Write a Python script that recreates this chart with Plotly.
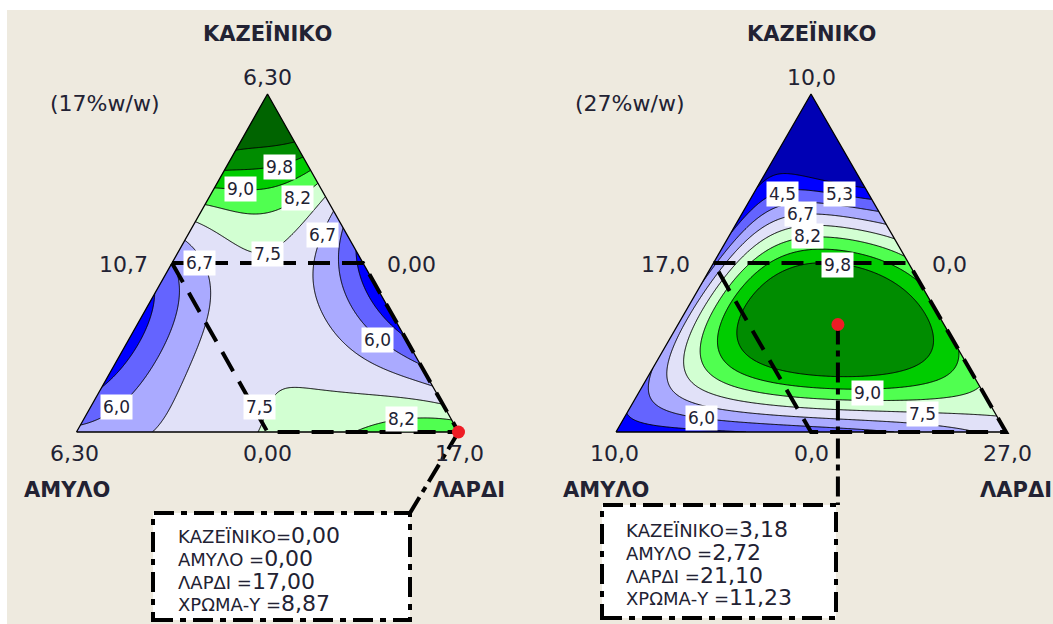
import numpy as np
import plotly.graph_objects as go

W, H = 1053, 624

# ====================== DATA ======================
# Left plot: mixture total 17 %w/w (KAZEINIKO 0-6,30 / AMYLO 0-6,30 / LARDI 10,7-17,0)
# Right plot: mixture total 27 %w/w (KAZEINIKO 0-10,0 / AMYLO 0-10,0 / LARDI 17,0-27,0)
# Response readings (ΧΡΩΜΑ-Υ), as pseudo-component proportions
L_kaz = [1.0,
         0.856, 0.869, 0.886,
         0.78, 0.77, 0.79,
         0.716, 0.718, 0.731, 0.753,
         0.672, 0.66, 0.667, 0.731,
         0.649, 0.598, 0.532, 0.529, 0.548, 0.598, 0.657, 0.701,
         0.568, 0.499, 0.42, 0.37, 0.30, 0.243, 0.173, 0.133, 0.0,
         0.686, 0.617, 0.548, 0.479, 0.41, 0.331, 0.233, 0.175, 0.144,
         0.494, 0.441, 0.352, 0.251, 0.154, 0.104, 0.036, 0.02,
         0.618, 0.5, 0.382, 0.302, 0.234, 0.19,
         0.435, 0.293, 0.183, 0.118,
         0.53, 0.441, 0.352, 0.302, 0.234,
         0.28, 0.40,
         0.149, 0.124, 0.104, 0.09, 0.08, 0.154, 0.124, 0.065, 0.0, 0.164,
         0.0, 0.036, 0.045, 0.05,
         0.0, 0.0,
         0.33, 0.45, 0.2, 0.25, 0.1,
         0.0, 0.0]
L_lard = [0.0,
          0.004, 0.064, 0.114,
          0.003, 0.10, 0.21,
          0.0, 0.126, 0.193, 0.247,
          0.009, 0.115, 0.182, 0.269,
          0.006, 0.068, 0.175, 0.242, 0.281, 0.299, 0.287, 0.299,
          0.0, 0.078, 0.129, 0.156, 0.17, 0.185, 0.19, 0.2, 0.195,
          0.314, 0.338, 0.359, 0.393, 0.437, 0.498, 0.617, 0.767, 0.856,
          0.0, 0.047, 0.082, 0.098, 0.094, 0.085, 0.036, 0.0,
          0.381, 0.444, 0.516, 0.609, 0.73, 0.81,
          0.0, 0.033, 0.028, 0.0,
          0.47, 0.529, 0.619, 0.704, 0.766,
          0.0, 0.60,
          0.563, 0.662, 0.76, 0.854, 0.92, 0.456, 0.436, 0.452, 0.476, 0.503,
          0.73, 0.794, 0.877, 0.95,
          1.0, 0.0,
          0.33, 0.25, 0.3, 0.45, 0.3,
          0.1, 0.35]
L_resp = [11.0,
          10.5, 10.5, 10.5,
          9.75, 9.75, 9.75,
          9.0, 9.0, 9.0, 9.0,
          8.25, 8.25, 8.25, 8.25,
          7.5, 7.5, 7.5, 7.5, 7.5, 7.5, 7.5, 7.5,
          6.75, 6.75, 6.75, 6.75, 6.75, 6.75, 6.75, 6.75, 6.75,
          6.75, 6.75, 6.75, 6.75, 6.75, 6.75, 6.75, 6.75, 6.75,
          6.0, 6.0, 6.0, 6.0, 6.0, 6.0, 6.0, 6.0,
          6.0, 6.0, 6.0, 6.0, 6.0, 6.0,
          5.25, 5.25, 5.25, 5.25,
          5.25, 5.25, 5.25, 5.25, 5.25,
          5.0, 5.0,
          7.5, 7.5, 7.5, 7.5, 7.5, 7.5, 7.5, 7.5, 7.5, 7.5,
          8.25, 8.25, 8.25, 8.25,
          8.87, 6.2,
          7.1, 7.1, 7.1, 7.1, 7.1,
          6.4, 7.2]

R_kaz = [1.0, 0.85,
         0.726, 0.726, 0.72,
         0.55, 0.672, 0.701, 0.685, 0.06, 0.0,
         0.49, 0.657, 0.677, 0.667, 0.655, 0.46, 0.124, 0.03, 0.15,
         0.645, 0.617, 0.62, 0.3215, 0.46, 0.124, 0.05, 0.04, 0.0,
         0.612, 0.578, 0.575, 0.3215, 0.46, 0.124, 0.07, 0.063, 0.06,
         0.578, 0.548, 0.51, 0.3215, 0.46, 0.124, 0.095, 0.09, 0.12, 0.1736,
         0.529, 0.499, 0.44, 0.3215, 0.46, 0.164, 0.132, 0.119, 0.129, 0.1736, 0.23,
         0.494, 0.489, 0.42, 0.3215, 0.203, 0.149, 0.164, 0.3215, 0.46,
         0.35, 0.333, 0.32,
         0.40, 0.30, 0.18, 0.25, 0.38,
         0.0, 0.0, 0.0, 0.0, 0.0]
R_lard = [0.0, 0.075,
          0.0, 0.129, 0.28,
          0.0, 0.054, 0.142, 0.315, 0.0, 0.32,
          0.0, 0.061, 0.154, 0.279, 0.345, 0.006, 0.046, 0.563, 0.0,
          0.170, 0.073, 0.38, 0.024, 0.019, 0.088, 0.553, 0.771, 0.93,
          0.186, 0.092, 0.425, 0.048, 0.036, 0.165, 0.543, 0.760, 0.94,
          0.203, 0.116, 0.49, 0.075, 0.057, 0.242, 0.531, 0.746, 0.88, 0.811,
          0.228, 0.439, 0.56, 0.125, 0.092, 0.282, 0.392, 0.518, 0.727, 0.756, 0.77,
          0.245, 0.385, 0.556, 0.652, 0.690, 0.503, 0.376, 0.186, 0.151,
          0.65, 0.398, 0.0,
          0.60, 0.70, 0.82, 0.72, 0.60,
          0.0, 0.15, 0.578, 0.79, 1.0]
R_resp = [3.0, 3.8,
          4.5, 4.5, 4.5,
          5.25, 5.25, 5.25, 5.25, 5.25, 5.25,
          6.0, 6.0, 6.0, 6.0, 6.0, 6.0, 6.0, 6.0, 6.0,
          6.75, 6.75, 6.75, 6.75, 6.75, 6.75, 6.75, 6.75, 6.75,
          7.5, 7.5, 7.5, 7.5, 7.5, 7.5, 7.5, 7.5, 7.5,
          8.25, 8.25, 8.25, 8.25, 8.25, 8.25, 8.25, 8.25, 8.25, 8.25,
          9.0, 9.0, 9.0, 9.0, 9.0, 9.0, 9.0, 9.0, 9.0, 9.0, 9.0,
          9.75, 9.75, 9.75, 9.75, 9.75, 9.75, 9.75, 9.75, 9.75,
          9.3, 11.2, 6.1,
          9.25, 9.15, 8.6, 9.35, 9.45,
          4.8, 5.0, 5.7, 6.3, 7.1]

# contour levels (start, end, step)
L_LEVELS = (4.5, 10.5, 0.75)
R_LEVELS = (4.5, 9.75, 0.75)

# Constraint region limits (KAZEINIKO <= , AMYLO <=)
L_LIM = (3.15, 3.15)
R_LIM = (5.0, 5.0)
L_RANGE = (6.30, 6.30, 10.7, 6.30)   # kaz max, amy max, lard min, lard span
R_RANGE = (10.0, 10.0, 17.0, 10.0)

# optimum points shown in the boxes
OPT_KAZ = [0.00, 3.18]
OPT_AMY = [0.00, 2.72]
OPT_LARD = [17.00, 21.10]
OPT_Y = [8.87, 11.23]

# axis texts
TITLE_TOP = "ΚΑΖΕΪΝΙΚΟ"
NAME_LEFT = "ΑΜΥΛΟ"
NAME_RIGHT = "ΛΑΡΔΙ"
L_TICKS = ["6,30", "10,7", "0,00", "6,30", "0,00", "17,0"]
R_TICKS = ["10,0", "17,0", "0,0", "10,0", "0,0", "27,0"]
L_NOTE = "(17%w/w)"
R_NOTE = "(27%w/w)"

# contour labels
L_LAB_TXT = ["9,8", "9,0", "8,2", "6,7", "7,5", "6,7", "6,0", "6,0", "7,5", "8,2"]
R_LAB_TXT = ["4,5", "5,3", "6,7", "8,2", "9,8", "9,0", "7,5", "6,0"]

# ====================== LAYOUT CONSTANTS ======================
L_LAB_POS = [(0.531, 0.784), (0.428, 0.719), (0.578, 0.692), (0.644, 0.583), (0.501, 0.527),
             (0.323, 0.500), (0.789, 0.272), (0.106, 0.074), (0.478, 0.074), (0.852, 0.038)]
R_LAB_POS = [(0.426, 0.704), (0.574, 0.704), (0.472, 0.645), (0.492, 0.580), (0.569, 0.494),
             (0.644, 0.115), (0.785, 0.053), (0.218, 0.041)]

BG = "rgb(238,234,223)"
BAND_COLORS = ["#0000b4", "#0000ff", "#6464ff", "#aaaaff", "#e1e1f8",
               "#d2ffd2", "#50ff50", "#00cc00", "#008c00", "#006400"]
TXT = "#222233"
FONT = "DejaVu Sans"

TRI = {"L": (76.5, 458.5, 94.0, 432.0), "R": (616.0, 1006.0, 94.0, 432.0)}
DOM = {"L": (0.0, 0.5), "R": (0.5, 1.0)}


def fit_surface(kaz, lard, resp, deg=6, ridge=1e-6):
    a = np.asarray(kaz, float)
    c = np.asarray(lard, float)
    b = 1 - a - c
    w = np.ones_like(a)
    on_edge = (np.abs(a) < 1e-9) | (np.abs(c) < 1e-9) | (np.abs(b) < 0.012)
    w[on_edge] = 3.0
    vert = ((a > 0.999) | (c > 0.999) | ((np.abs(a) < 1e-9) & (np.abs(c) < 1e-9)))
    w[vert] = 5.0
    terms = [(i, j) for i in range(deg + 1) for j in range(deg + 1 - i)]
    A = np.stack([a ** i * c ** j for i, j in terms], axis=1)
    Aw = A * w[:, None]
    yw = np.asarray(resp, float) * w
    coef = np.linalg.solve(Aw.T @ Aw + ridge * np.eye(len(terms)), Aw.T @ yw)
    return terms, coef


def eval_surface(terms, coef, a, c):
    z = np.zeros_like(a)
    for (i, j), k in zip(terms, coef):
        z = z + k * a ** i * c ** j
    return z


def to_xy(kaz_frac, lard_frac):
    return lard_frac + kaz_frac / 2.0, kaz_frac


def pxp(px, py):
    return px / W, 1 - py / H


fig = go.Figure()

gx = np.linspace(0, 1, 241)
gy = np.linspace(0, 1, 241)
GX, GY = np.meshgrid(gx, gy)

panels = [
    ("L", "x", "y", L_kaz, L_lard, L_resp, L_LEVELS),
    ("R", "x2", "y2", R_kaz, R_lard, R_resp, R_LEVELS),
]

for key, xa, ya, kz, ld, rs, lev in panels:
    terms, coef = fit_surface(kz, ld, rs)
    A = GY
    C = GX - GY / 2.0
    Z = eval_surface(terms, coef, A, C)
    start, end, step = lev
    nc = int(round((end - start) / step)) + 1
    cols = BAND_COLORS[:nc + 1]
    cs = [[i / nc, cols[i]] for i in range(nc + 1)]
    fig.add_trace(go.Contour(
        x=gx, y=gy, z=Z, xaxis=xa, yaxis=ya,
        autocontour=False,
        contours=dict(start=start, end=end, size=step, coloring="fill", showlines=True),
        line=dict(color="black", width=1, smoothing=0.6),
        colorscale=cs, showscale=False, hoverinfo="skip"))
    # masks outside the triangle
    fig.add_trace(go.Scatter(x=[0, 0.5, 0.5, -0.05, -0.05, 0], y=[0, 1, 1.05, 1.05, -0.002, 0],
                             xaxis=xa, yaxis=ya, mode="lines", fill="toself", fillcolor=BG,
                             line=dict(width=0, color=BG), hoverinfo="skip", showlegend=False))
    fig.add_trace(go.Scatter(x=[1, 0.5, 0.5, 1.05, 1.05, 1], y=[0, 1, 1.05, 1.05, -0.002, 0],
                             xaxis=xa, yaxis=ya, mode="lines", fill="toself", fillcolor=BG,
                             line=dict(width=0, color=BG), hoverinfo="skip", showlegend=False))
    # triangle outline
    fig.add_trace(go.Scatter(x=[0, 0.5, 1, 0], y=[0, 1, 0, 0], xaxis=xa, yaxis=ya, mode="lines",
                             line=dict(color="black", width=1.3), hoverinfo="skip", showlegend=False))

# constraint region dashed lines
for key, xa, ya, lim, rng in [("L", "x", "y", L_LIM, L_RANGE), ("R", "x2", "y2", R_LIM, R_RANGE)]:
    kmax, amax, lmin, lspan = rng
    ka = lim[0] / kmax
    am = lim[1] / amax
    pts = [(ka, 0.0), (ka, 1 - ka), (0.0, 1.0), (0.0, 1 - am), (1 - am, 0.0)]
    xs, ys = zip(*[to_xy(k, l) for k, l in pts])
    fig.add_trace(go.Scatter(x=list(xs), y=list(ys), xaxis=xa, yaxis=ya, mode="lines",
                             line=dict(color="black", width=4, dash="22px,12px"),
                             hoverinfo="skip", showlegend=False))

# optimum points + callouts
BOX = {"L": (153, 513, 410, 620), "R": (602, 505, 836, 618)}
for idx, (key, xa, ya, rng) in enumerate([("L", "x", "y", L_RANGE), ("R", "x2", "y2", R_RANGE)]):
    kmax, amax, lmin, lspan = rng
    kf = OPT_KAZ[idx] / kmax
    lf = (OPT_LARD[idx] - lmin) / lspan
    ox, oy = to_xy(kf, lf)
    x0, x1, ya_px, yb_px = TRI[key]
    bx0, by0, bx1, by1 = BOX[key]
    cx = (bx1 - x0) / (x1 - x0) if key == "L" else ox
    cy = (yb_px - by0) / (yb_px - ya_px)
    fig.add_trace(go.Scatter(x=[ox, cx], y=[oy, cy], xaxis=xa, yaxis=ya, mode="lines",
                             line=dict(color="black", width=4, dash="20px,6px,6px,6px"),
                             hoverinfo="skip", showlegend=False))
    fig.add_trace(go.Scatter(x=[ox], y=[oy], xaxis=xa, yaxis=ya, mode="markers",
                             marker=dict(color="#ee1c25", size=13, line=dict(width=0)),
                             hoverinfo="skip", showlegend=False))

shapes = [dict(type="rect", xref="paper", yref="paper", x0=7 / W, y0=0, x1=1, y1=1 - 10 / H,
               fillcolor=BG, line=dict(width=0), layer="below")]
for key in ("L", "R"):
    bx0, by0, bx1, by1 = BOX[key]
    p0 = pxp(bx0, by1)
    p1 = pxp(bx1, by0)
    shapes.append(dict(type="rect", xref="paper", yref="paper", x0=p0[0], y0=p0[1], x1=p1[0], y1=p1[1],
                       fillcolor="white", line=dict(color="black", width=4, dash="20px,7px,6px,7px"),
                       layer="above"))

ann = []


def text(px, py, s, size=21, bold=False, xanchor="center", align="center"):
    x, y = pxp(px, py)
    ann.append(dict(x=x, y=y, xref="paper", yref="paper", text=(f"<b>{s}</b>" if bold else s),
                    showarrow=False, xanchor=xanchor, yanchor="middle", align=align,
                    font=dict(family=FONT, size=size, color=TXT)))


# titles and vertex labels
for key, ticks, note, notex in [("L", L_TICKS, L_NOTE, 104), ("R", R_TICKS, R_NOTE, 629)]:
    x0, x1, ya_px, yb_px = TRI[key]
    xc = (x0 + x1) / 2
    ym = (ya_px + yb_px) / 2
    text(xc, 33, TITLE_TOP, 21, True)
    text(xc, 77, ticks[0], 22)
    text(notex, 104, note, 22)
    text((x0 + xc) / 2 - 22, ym + 1, ticks[1], 22, xanchor="right")
    text((x1 + xc) / 2 + 22, ym + 1, ticks[2], 22, xanchor="left")
    text(x0 - 2, 453, ticks[3], 22)
    text(xc, 453, ticks[4], 22)
    text(x1 + 1, 453, ticks[5], 22)
    text(x0 - 10, 490, NAME_LEFT, 21, True)
    text(x1 + 10, 490, NAME_RIGHT, 21, True)

# contour labels
for xa, ya, txts, poss in [("x", "y", L_LAB_TXT, L_LAB_POS), ("x2", "y2", R_LAB_TXT, R_LAB_POS)]:
    for t, (lx, ly) in zip(txts, poss):
        ann.append(dict(x=lx, y=ly, xref=xa, yref=ya, text=t, showarrow=False, bgcolor="white",
                        borderpad=2, font=dict(family=FONT, size=17, color=TXT)))

# box texts (one block per box)
NAMES = ["ΚΑΖΕΪΝΙΚΟ=", "ΑΜΥΛΟ =", "ΛΑΡΔΙ =", "ΧΡΩΜΑ-Υ ="]
BOX_TXT = {"L": (176, 569), "R": (624, 563)}
for idx, key in enumerate(("L", "R")):
    vals = [OPT_KAZ[idx], OPT_AMY[idx], OPT_LARD[idx], OPT_Y[idx]]
    tx, tyc = BOX_TXT[key]
    lines = []
    for nm, v in zip(NAMES, vals):
        vs = f"{v:.2f}".replace(".", ",")
        lines.append(f'<span style="font-size:18px">{nm}</span><span style="font-size:22px">{vs}</span>')
    text(tx, tyc, "<br>".join(lines), 17.5, xanchor="left", align="left")


def axis_range(key):
    x0, x1, ya_px, yb_px = TRI[key]
    d0, d1 = DOM[key]
    w = x1 - x0
    return [(d0 * W - x0) / w, (d1 * W - x0) / w]


h = TRI["L"][3] - TRI["L"][2]
yr = [(TRI["L"][3] - H) / h, TRI["L"][3] / h]
ax = dict(showgrid=False, zeroline=False, showticklabels=False, ticks="", showline=False, fixedrange=True)
fig.update_layout(
    width=W, height=H, margin=dict(l=0, r=0, t=0, b=0),
    paper_bgcolor="white", plot_bgcolor="rgba(0,0,0,0)", showlegend=False,
    xaxis=dict(domain=[0, 0.5], range=axis_range("L"), **ax),
    yaxis=dict(domain=[0, 1], range=yr, **ax),
    xaxis2=dict(domain=[0.5, 1], range=axis_range("R"), anchor="y2", **ax),
    yaxis2=dict(domain=[0, 1], range=yr, anchor="x2", **ax),
    shapes=shapes, annotations=ann,
)
fig.write_html("out.html")
